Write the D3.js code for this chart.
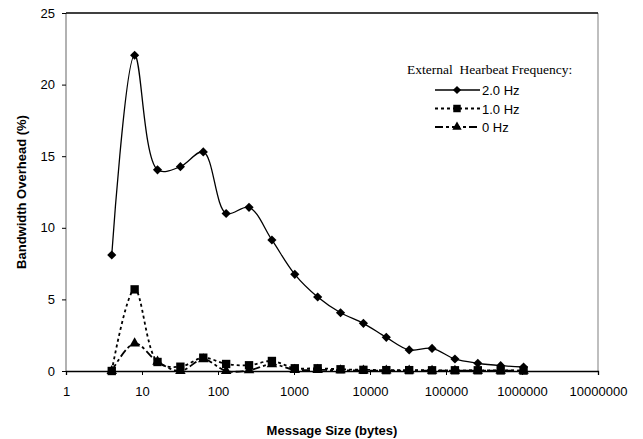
<!DOCTYPE html>
<html>
<head>
<meta charset="utf-8">
<script src="https://cdn.jsdelivr.net/npm/d3@7"></script>
<style>
  body { margin: 0; background: #fff; }
  svg { display: block; }
  .tick text { font-family: "Liberation Sans", Arial, sans-serif; font-size: 13px; fill: #000; }
</style>
</head>
<body>
<svg id="chart"></svg>
<script>
// message sizes in bytes (2^2 .. 2^20)
const sizes = [4, 8, 16, 32, 64, 128, 256, 512, 1024, 2048, 4096, 8192, 16384,
  32768, 65536, 131072, 262144, 524288, 1048576];
const hz2 = [8.1, 22.05, 14.05, 14.27, 15.3, 11.0, 11.43, 9.15, 6.75, 5.17, 4.07,
  3.33, 2.35, 1.47, 1.58, 0.84, 0.54, 0.37, 0.28];
const hz1 = [0.0, 5.7, 0.63, 0.3, 0.93, 0.49, 0.4, 0.7, 0.19, 0.19, 0.12,
  0.08, 0.06, 0.06, 0.05, 0.05, 0.05, 0.04, 0.03];
const hz0 = [0.0, 1.93, 0.65, 0.0, 0.82, 0.0, 0.05, 0.47, 0.08, 0.08, 0.05,
  0.03, 0.03, 0.03, 0.02, 0.02, 0.02, 0.02, 0.02];
const xTicks = [1, 10, 100, 1000, 10000, 100000, 1000000, 10000000];
const yTicks = [0, 5, 10, 15, 20, 25];
const seriesNames = ["2.0 Hz", "1.0 Hz", "0 Hz"];

const width = 643, height = 439;
const mLeft = 66, mRight = 598, mTop = 13, mBottom = 371;

const svg = d3.select("#chart").attr("width", width).attr("height", height);

const x = d3.scaleLog().domain([1, 10000000]).range([mLeft, mRight]);
const y = d3.scaleLinear().domain([0, 25]).range([mBottom, mTop]);

// frame
svg.append("line").attr("x1", mLeft).attr("x2", mLeft).attr("y1", mTop).attr("y2", mBottom)
  .attr("stroke", "#999").attr("stroke-width", 1.5);
svg.append("line").attr("x1", mRight).attr("x2", mRight).attr("y1", mTop).attr("y2", mBottom)
  .attr("stroke", "#aaa").attr("stroke-width", 1.5);
svg.append("line").attr("x1", mLeft).attr("x2", mRight).attr("y1", mTop).attr("y2", mTop)
  .attr("stroke", "#000").attr("stroke-width", 1.3);

// y axis
svg.append("g")
  .attr("transform", `translate(${mLeft},0)`)
  .call(d3.axisLeft(y).tickValues(yTicks).tickSize(4).tickPadding(7))
  .call(g => g.select(".domain").remove())
  .call(g => g.selectAll(".tick line").attr("stroke", "#000"));

// x axis
svg.append("g")
  .attr("transform", `translate(0,${mBottom})`)
  .call(d3.axisBottom(x).tickValues(xTicks).tickFormat(d3.format("d")).tickSize(4).tickPadding(12))
  .call(g => g.select(".domain").attr("stroke", "#000").attr("stroke-width", 1.3))
  .call(g => g.selectAll(".tick line").attr("stroke", "#000"));

// titles
svg.append("text")
  .attr("x", 332).attr("y", 435)
  .attr("text-anchor", "middle")
  .style("font-family", "Liberation Sans, Arial, sans-serif")
  .style("font-size", "13px").style("font-weight", "bold")
  .text("Message Size (bytes)");

svg.append("text")
  .attr("transform", `translate(26,${(mTop + mBottom) / 2}) rotate(-90)`)
  .attr("text-anchor", "middle")
  .style("font-family", "Liberation Sans, Arial, sans-serif")
  .style("font-size", "13px").style("font-weight", "bold")
  .text("Bandwidth Overhead (%)");

// diamond = square turned 45 degrees
const styles = [
  { data: hz2, dash: null, width: 1.3, symbol: d3.symbolSquare, size: 42, rot: 45 },
  { data: hz1, dash: "3,3", width: 1.8, symbol: d3.symbolSquare, size: 70, rot: 0 },
  { data: hz0, dash: "8,3,3,3", width: 1.8, symbol: d3.symbolTriangle, size: 48, rot: 0 }
];

const line = d3.line()
  .x(d => x(d[0]))
  .y(d => y(d[1]))
  .curve(d3.curveCatmullRom);

styles.forEach(s => {
  const pts = sizes.map((v, i) => [v, s.data[i]]);
  svg.append("path")
    .datum(pts)
    .attr("d", line)
    .attr("fill", "none")
    .attr("stroke", "#000")
    .attr("stroke-width", s.width)
    .attr("stroke-dasharray", s.dash);
  svg.append("g").selectAll("path")
    .data(pts)
    .join("path")
    .attr("transform", d => `translate(${x(d[0])},${y(d[1])}) rotate(${s.rot})`)
    .attr("d", d3.symbol(s.symbol, s.size))
    .attr("fill", "#000");
});

// legend
svg.append("text")
  .attr("x", 407).attr("y", 74)
  .style("font-family", "Liberation Serif, Times New Roman, serif")
  .style("font-size", "13.5px")
  .style("white-space", "pre")
  .attr("xml:space", "preserve")
  .text("External  Hearbeat Frequency:");

const legend = svg.append("g");
styles.forEach((s, i) => {
  const ly = 90 + i * 18.5;
  const g = legend.append("g").attr("transform", `translate(0,${ly})`);
  g.append("line")
    .attr("x1", 435).attr("x2", 480)
    .attr("stroke", "#000").attr("stroke-width", s.width)
    .attr("stroke-dasharray", s.dash);
  g.append("path")
    .attr("transform", `translate(457,0) rotate(${s.rot})`)
    .attr("d", d3.symbol(s.symbol, s.size * 0.8))
    .attr("fill", "#000");
  g.append("text")
    .attr("x", 482).attr("y", 5)
    .style("font-family", "Liberation Sans, Arial, sans-serif")
    .style("font-size", "13px")
    .text(seriesNames[i]);
});
</script>
</body>
</html>
